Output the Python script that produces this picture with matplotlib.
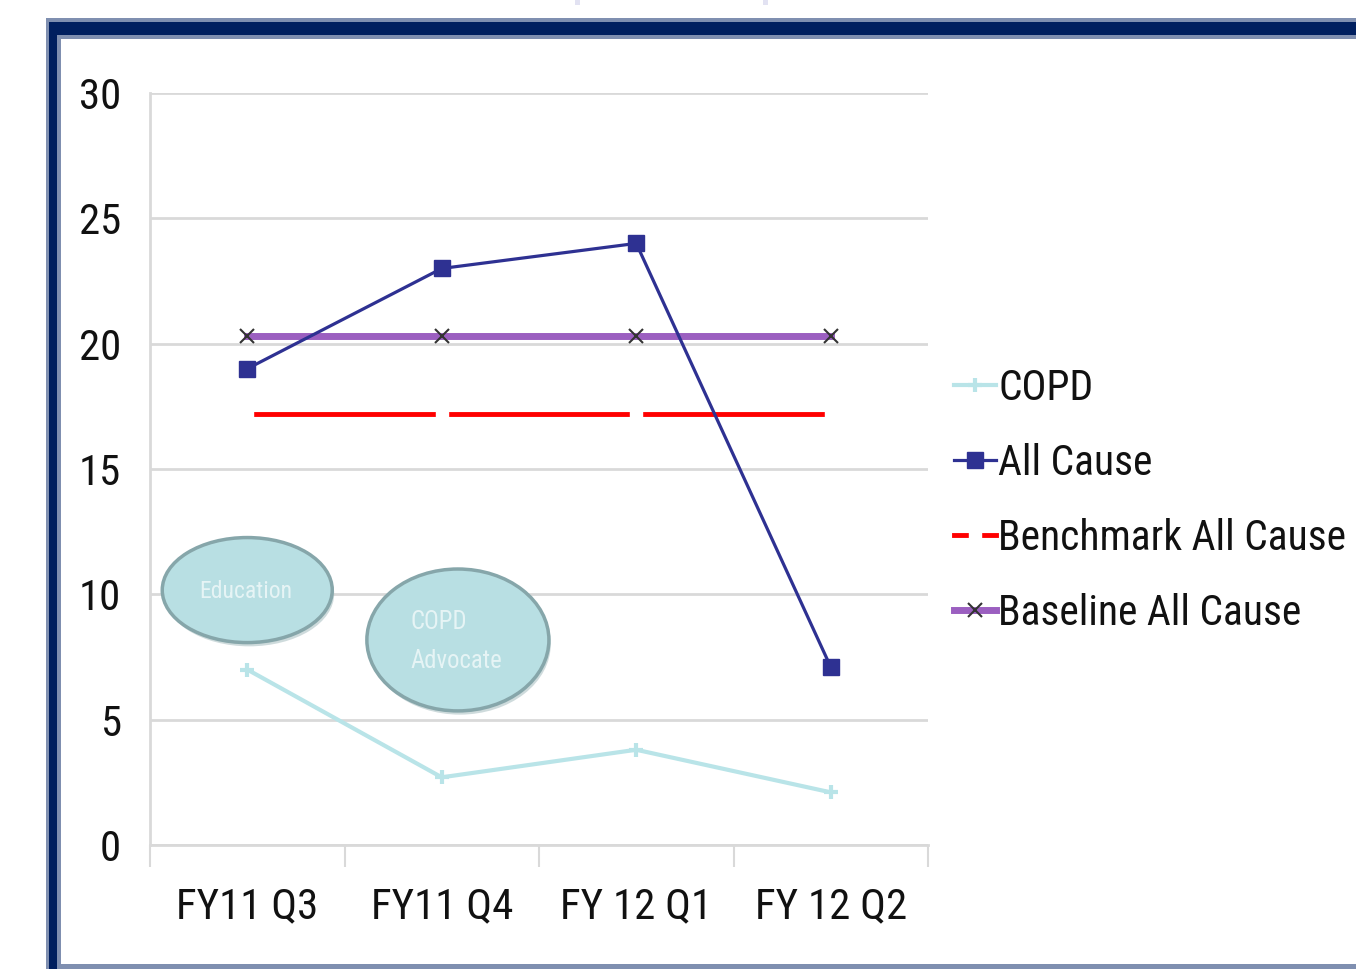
import matplotlib
matplotlib.use("Agg")
import matplotlib.pyplot as plt
from matplotlib.patches import Rectangle, Ellipse
from matplotlib import font_manager as fm

categories = ["FY11 Q3", "FY11 Q4", "FY 12 Q1", "FY 12 Q2"]
copd = [7.0, 2.7, 3.8, 2.1]
all_cause = [19.0, 23.0, 24.0, 7.1]
benchmark = [17.2, 17.2, 17.2, 17.2]
baseline = [20.3, 20.3, 20.3, 20.3]
y_ticks = [0, 5, 10, 15, 20, 25, 30]
series_labels = ['COPD', 'All Cause', 'Benchmark All Cause', 'Baseline All Cause']

W, H = 1356, 969

# pick a narrow font if available
chosen_family, chosen_stretch = 'Liberation Sans', 'normal'
for fam, st in [('Liberation Sans Narrow', 'normal'), ('Roboto Condensed', 'normal'),
                ('Open Sans Condensed', 'normal'), ('DejaVu Sans', 'condensed'),
                ('Roboto', 'condensed'), ('Open Sans', 'condensed')]:
    try:
        p = fm.findfont(fm.FontProperties(family=fam, stretch=st), fallback_to_default=False)
    except Exception:
        continue
    low = p.lower()
    if 'narrow' in low or 'condensed' in low:
        chosen_family, chosen_stretch = fam, st
        break

plt.rcParams['font.family'] = [chosen_family, 'Liberation Sans', 'DejaVu Sans']
plt.rcParams['font.stretch'] = chosen_stretch

fig = plt.figure(figsize=(W / 100, H / 100), dpi=100)
fig.patch.set_facecolor('white')
renderer = fig.canvas.get_renderer()


def size_for_width(text, target_px):
    t = fig.text(0, 0, text, fontsize=20, family=[chosen_family, 'DejaVu Sans'], stretch=chosen_stretch)
    w = t.get_window_extent(renderer=renderer).width
    t.remove()
    return 20 * target_px / w


legend_fs = size_for_width('Benchmark All Cause', 348)
tick_fs = size_for_width('FY11 Q3', 142)


def rect_px(x0, y0, x1, y1, color, z=0):
    r = Rectangle((x0 / W, 1 - y1 / H), (x1 - x0) / W, (y1 - y0) / H,
                  transform=fig.transFigure, facecolor=color, edgecolor='none', zorder=z)
    fig.add_artist(r)


# frame
rect_px(46, 18, 1400, 1100, '#7f8fb0', -10)
rect_px(49, 22, 1400, 1100, '#001f5f', -9)
rect_px(57, 35, 1400, 1100, '#7f8fb0', -8)
rect_px(61, 39, 1400, 964, 'white', -7)
rect_px(575, 0, 580, 5, '#e2e2f2', -6)
rect_px(763, 0, 768, 5, '#e2e2f2', -6)

ax = fig.add_axes([150 / W, 1 - 845 / H, (928 - 150) / W, (845 - 93) / H])
ax.set_facecolor('none')
x = list(range(len(categories)))

ax.plot(x, copd, color='#b9e4e8', lw=3, marker='+', ms=10, mew=3, zorder=3, label=series_labels[0])
ax.plot(x, all_cause, color='#2e3192', lw=2.3, marker='s', ms=11, mec='#2e3192', zorder=5,
        label=series_labels[1])
ax.plot(x, benchmark, color='#ff0000', lw=3.5, ls='-', marker='s', ms=8, mfc='white', mec='white',
        zorder=4, label=series_labels[2])
ax.plot(x, baseline, color='#9b5fc0', lw=5, marker='x', ms=10, mec='#333333', mew=1.5,
        zorder=4, label=series_labels[3])

ax.set_xlim(-0.5, len(categories) - 0.5)
ax.set_ylim(0, 30)
ax.set_yticks(y_ticks)
ax.set_yticklabels([str(v) for v in y_ticks])
ax.yaxis.grid(True, color='#d9d9d9', lw=2)
ax.set_axisbelow(True)
ax.set_xticks(x)
ax.set_xticklabels(categories)
ax.set_xticks([i - 0.5 for i in range(len(categories) + 1)], minor=True)
ax.tick_params(axis='x', which='major', length=0, pad=30, labelsize=tick_fs, colors='#111111')
ax.tick_params(axis='x', which='minor', length=16, width=1.5, color='#d9d9d9', direction='out')
ax.tick_params(axis='y', length=0, pad=21, labelsize=tick_fs, colors='#111111')
for s in ['top', 'right']:
    ax.spines[s].set_visible(False)
for s in ['left', 'bottom']:
    ax.spines[s].set_color('#d9d9d9')
    ax.spines[s].set_linewidth(2)

# annotation ellipses
for (cx, cy, w, h) in [(0.0, 10.17, 0.874, 4.19), (1.083, 8.18, 0.936, 5.66)]:
    sh = Ellipse((cx + 0.01, cy - 0.15), w, h, facecolor='#9fb8bb', edgecolor='none', alpha=0.5, zorder=6)
    ax.add_patch(sh)
    e = Ellipse((cx, cy), w, h, facecolor='#b8dfe3', edgecolor='#86a6aa', lw=2.5, zorder=7)
    ax.add_patch(e)
ann_fs = tick_fs * 0.55
ax.text(-0.01, 10.1, 'Education', color='#e6f4f5', fontsize=ann_fs, ha='center', va='center', zorder=8)
ax.text(0.84, 8.9, 'COPD', color='#e6f4f5', fontsize=ann_fs * 1.05, ha='left', va='center', zorder=8)
ax.text(0.84, 7.35, 'Advocate', color='#e6f4f5', fontsize=ann_fs * 1.05, ha='left', va='center', zorder=8)

# legend spacing: rows 75 px apart
row_pt = 75 * 72 / 100
lab_sp = max(0.1, (row_pt - legend_fs * 1.17) / legend_fs + 5.4 / legend_fs)
leg = fig.legend(loc='upper left', bbox_to_anchor=(954 / W, 1 - 368 / H), frameon=False,
                 fontsize=legend_fs, handlelength=42 * 0.72 / legend_fs, handletextpad=0.05,
                 labelspacing=lab_sp, borderaxespad=0, borderpad=0)
for t in leg.get_texts():
    t.set_color('#111111')

fig.savefig('out.png', dpi=100, facecolor='white')
